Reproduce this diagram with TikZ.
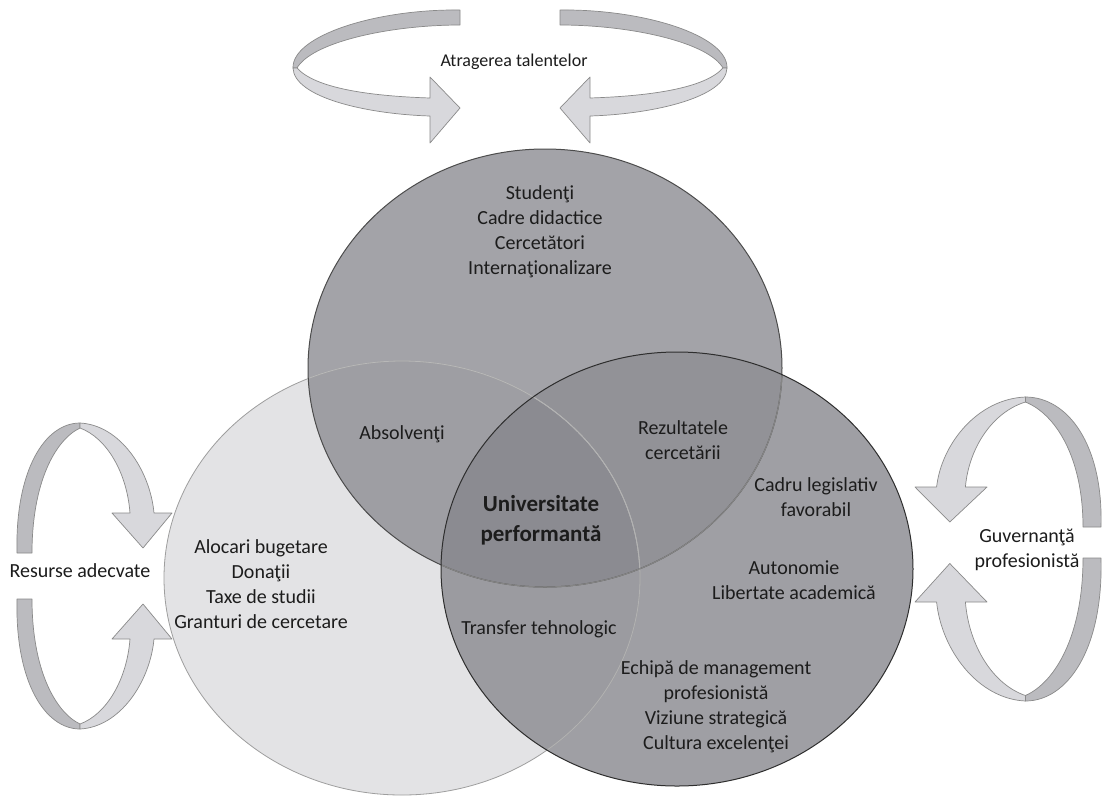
\documentclass[tikz,border=0pt]{standalone}
\usepackage{fontspec}
\setmainfont{Carlito}
\definecolor{cL}{HTML}{E3E3E5}
\definecolor{cT}{HTML}{A3A3A8}
\definecolor{cR}{HTML}{9F9FA4}
\definecolor{cTL}{HTML}{9E9EA3}
\definecolor{cTR}{HTML}{929297}
\definecolor{cLR}{HTML}{9B9BA0}
\definecolor{cTLR}{HTML}{8B8B91}
\definecolor{ribB}{HTML}{BBBBBF}
\definecolor{ribF}{HTML}{D8D8DC}
\definecolor{ribE}{HTML}{8A8A8A}
\definecolor{txt}{HTML}{1C1C1C}
\begin{document}
\begin{tikzpicture}[x=1pt,y=-1pt,
  lbl/.style={font=\fontsize{20}{25}\selectfont, align=center, inner sep=0pt, text=txt},
  boldlbl/.style={font=\fontsize{23}{30}\selectfont\bfseries, align=center, inner sep=0pt, text=txt},
  backband/.style={fill=ribB, draw=ribE, line width=0.7pt, line join=round},
  frontband/.style={fill=ribF, draw=ribE, line width=0.7pt, line join=round},
  vloop/.pic={
    \path[backband] (0,0) -- (15,0) .. controls (15,-70) and (38,-113) .. (63,-125)
      -- (63,-130) .. controls (28,-130) and (-2,-83) .. (0,0) -- cycle;
    \path[frontband] (63,-130) .. controls (103,-128) and (133,-83) .. (137,-40)
      -- (155,-40) -- (126,-5) -- (95,-40) -- (113,-40)
      .. controls (110,-80) and (90,-115) .. (63,-125) -- cycle;
  },
  hloop/.pic={
    \path[backband] (460,10) -- (460,25) .. controls (390,25) and (312,42) .. (297,68)
      -- (293,68) .. controls (292,36) and (375,9) .. (460,10) -- cycle;
    \path[frontband] (293,68) .. controls (294,97) and (365,114) .. (430,116)
      -- (430,143) -- (460,108) -- (430,77) -- (430,98)
      .. controls (368,96) and (315,88) .. (297,68) -- cycle;
  }]
\useasboundingbox (0,0) rectangle (1103,796);
\fill[white] (0,0) rectangle (1103,796);

% Venn regions
\fill[cL] (402,578) ellipse [x radius=238pt, y radius=217pt];
\fill[cT] (545,368) ellipse [x radius=237pt, y radius=219pt];
\fill[cR] (677,569) ellipse [x radius=236pt, y radius=217pt];
\begin{scope}
  \clip (545,368) ellipse [x radius=237pt, y radius=219pt];
  \fill[cTL] (402,578) ellipse [x radius=238pt, y radius=217pt];
  \fill[cTR] (677,569) ellipse [x radius=236pt, y radius=217pt];
\end{scope}
\begin{scope}
  \clip (402,578) ellipse [x radius=238pt, y radius=217pt];
  \fill[cLR] (677,569) ellipse [x radius=236pt, y radius=217pt];
\end{scope}
\begin{scope}
  \clip (545,368) ellipse [x radius=237pt, y radius=219pt];
  \clip (402,578) ellipse [x radius=238pt, y radius=217pt];
  \fill[cTLR] (677,569) ellipse [x radius=236pt, y radius=217pt];
\end{scope}
% outlines
\draw[black!38, line width=0.8pt] (402,578) ellipse [x radius=238pt, y radius=217pt];
\begin{scope}
  \clip (545,368) ellipse [x radius=237pt, y radius=219pt];
  \draw[black!28, line width=0.8pt] (402,578) ellipse [x radius=238pt, y radius=217pt];
\end{scope}
\draw[black!70, line width=1pt] (545,368) ellipse [x radius=237pt, y radius=219pt];
\begin{scope}
  \clip (677,569) ellipse [x radius=236pt, y radius=217pt];
  \draw[black!30, line width=0.8pt] (402,578) ellipse [x radius=238pt, y radius=217pt];
  \draw[black!48, line width=1.1pt] (545,368) ellipse [x radius=237pt, y radius=219pt];
\end{scope}
\draw[black!82, line width=1pt] (677,569) ellipse [x radius=236pt, y radius=217pt];

% ribbon arrows
\pic at (0,0) {hloop};
\pic[xscale=-1] at (1020,0) {hloop};
\pic at (17,553) {vloop};
\pic[yscale=-1] at (17,599) {vloop};
\pic[xscale=-1.2] at (1101,527) {vloop};
\pic[xscale=-1.2, yscale=-1.1] at (1101,558) {vloop};

% labels
\node[lbl, font=\fontsize{18}{22}\selectfont] (atr) at (514,62) {Atragerea talentelor};
\node[lbl] (res) at (80,571) {Resurse adecvate};
\node[lbl] (guv) at (1027,550) {Guvernanţă\\profesionistă};
\node[lbl] (top) at (540,232) {Studenţi\\Cadre didactice\\Cercetători\\Internaţionalizare};
\node[lbl] (abs) at (402,434) {Absolvenţi};
\node[lbl] (rez) at (683,440) {Rezultatele\\cercetării};
\node[boldlbl] (univ) at (541,520) {Universitate\\performantă};
\node[lbl] (cad) at (816,497) {Cadru legislativ\\favorabil};
\node[lbl] (aut) at (794,580) {Autonomie\\Libertate academică};
\node[lbl] (aloc) at (261,584) {Alocari bugetare\\Donaţii\\Taxe de studii\\Granturi de cercetare};
\node[lbl] (tra) at (539,629) {Transfer tehnologic};
\node[lbl] (ech) at (716,707) {Echipă de management\\profesionistă\\Viziune strategică\\Cultura excelenţei};
\end{tikzpicture}
\end{document}
